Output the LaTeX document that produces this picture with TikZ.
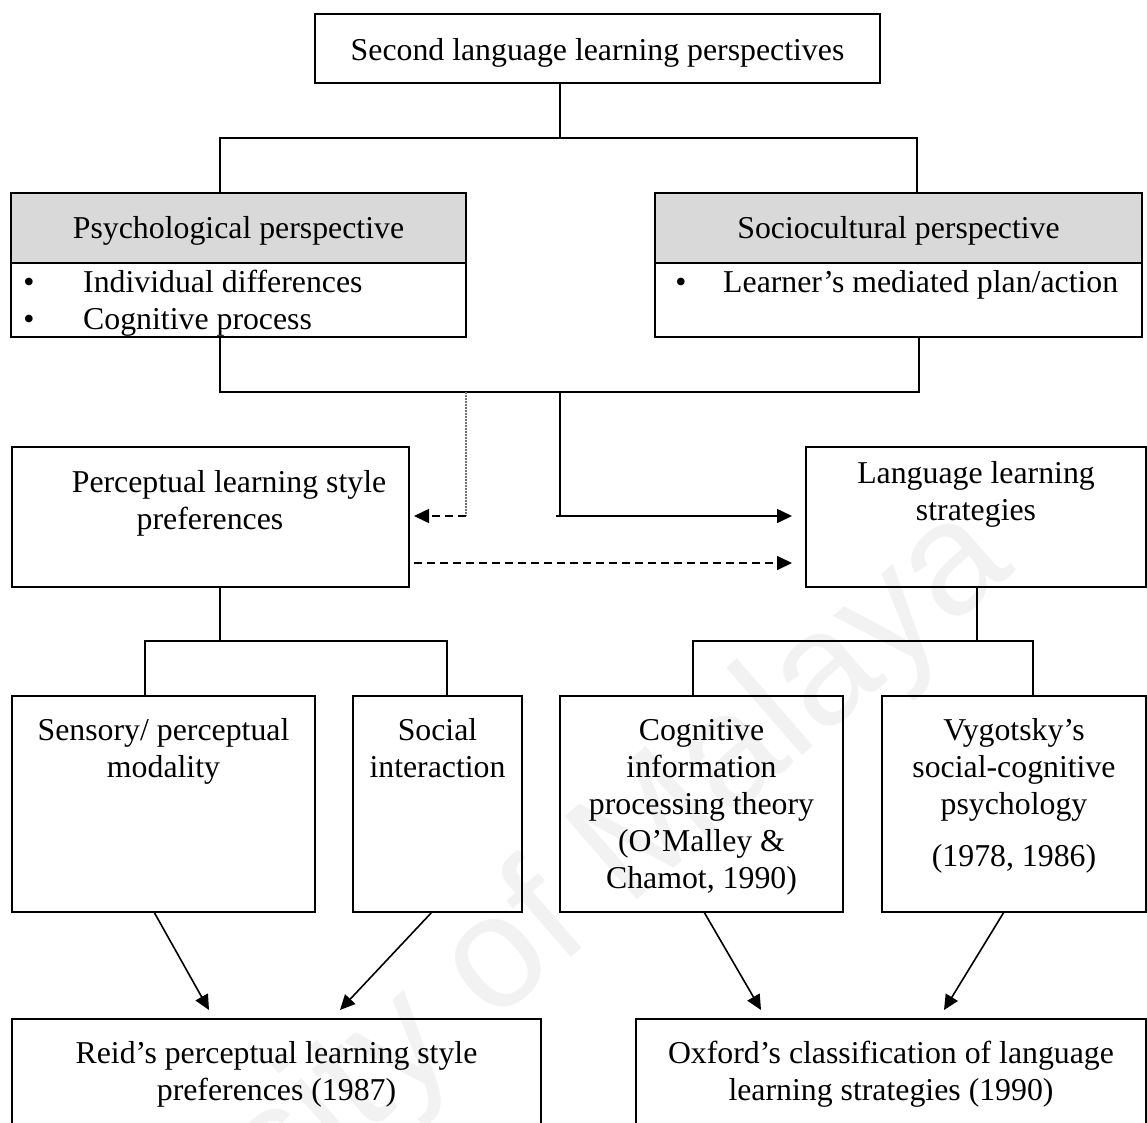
\documentclass[tikz,border=0pt]{standalone}
\usepackage{fontspec}
\setmainfont{Liberation Serif}
\newfontfamily\wmfont{Liberation Sans}
\usetikzlibrary{arrows.meta}
\definecolor{hdrgray}{RGB}{217,217,217}
\definecolor{wmgray}{RGB}{242,242,242}
\begin{document}
\begin{tikzpicture}[x=1pt, y=-1pt,
  box/.style={draw, line width=1.8pt, inner sep=0pt, outer sep=0pt, anchor=north west},
  hdr/.style={box, fill=hdrgray},
  txt/.style={anchor=base, inner sep=0pt, font=\fontsize{31.8pt}{37pt}\selectfont},
  link/.style={line width=1.8pt},
  arr/.style={line width=1.6pt, -{Triangle[length=15pt,width=14pt]}},
  dasharr/.style={arr, dash pattern=on 8pt off 5pt},
  guide/.style={black!55, line width=1.2pt, dash pattern=on 2pt off 1pt}]

\useasboundingbox (0,0) rectangle (1147,1122);
\fill[white] (0,0) rectangle (1147,1122);

% watermark
\node[rotate=41, anchor=base, inner sep=0pt, text=wmgray,
      font=\wmfont\fontsize{160pt}{160pt}\selectfont] (wm) at (473,1042) {University of Malaya};

% boxes
\node[box, minimum width=565pt, minimum height=69pt]  (top)  at (315,14)   {};
\node[hdr, minimum width=455pt, minimum height=70pt]  (psyh) at (11,193)   {};
\node[box, minimum width=455pt, minimum height=74pt]  (psyb) at (11,263)   {};
\node[hdr, minimum width=487pt, minimum height=70pt]  (soch) at (655,193)  {};
\node[box, minimum width=487pt, minimum height=74pt]  (socb) at (655,263)  {};
\node[box, minimum width=397pt, minimum height=140pt] (perc) at (12,447)   {};
\node[box, minimum width=340pt, minimum height=140pt] (lls)  at (806,447)  {};
\node[box, minimum width=303pt, minimum height=216pt] (sens) at (12,696)   {};
\node[box, minimum width=169pt, minimum height=216pt] (sint) at (353,696)  {};
\node[box, minimum width=283pt, minimum height=216pt] (cog)  at (560,696)  {};
\node[box, minimum width=264pt, minimum height=216pt] (vyg)  at (882,696)  {};
\node[box, minimum width=529pt, minimum height=130pt] (reid) at (12,1019)  {};
\node[box, minimum width=510pt, minimum height=130pt] (oxf)  at (636,1019) {};

% texts
\node[txt] (ttop) at (597.5,60) {Second language learning perspectives};
\node[txt] (tpsy) at (238.5,238) {Psychological perspective};
\node[txt] (tsoc) at (898.5,238) {Sociocultural perspective};
\node[txt] (bu1) at (29,292) {•};
\node[txt, anchor=base west] (it1) at (83,292) {Individual differences};
\node[txt] (bu2) at (29,329) {•};
\node[txt, anchor=base west] (it2) at (83,329) {Cognitive process};
\node[txt] (bu3) at (681,292) {•};
\node[txt, anchor=base west] (it3) at (723,292) {Learner’s mediated plan/action};

\node[txt] (pe1) at (229,492) {Perceptual learning style};
\node[txt] (pe2) at (210,529) {preferences};
\node[txt] (ll1) at (976,483) {Language learning};
\node[txt] (ll2) at (976,520) {strategies};

\node[txt] (se1) at (163.5,740) {Sensory/ perceptual};
\node[txt] (se2) at (163.5,777) {modality};
\node[txt] (si1) at (437.5,740) {Social};
\node[txt] (si2) at (437.5,777) {interaction};
\node[txt] (co1) at (701.5,740) {Cognitive};
\node[txt] (co2) at (701.5,777) {information};
\node[txt] (co3) at (701.5,814) {processing theory};
\node[txt] (co4) at (701.5,851) {(O’Malley \&};
\node[txt] (co5) at (701.5,888) {Chamot, 1990)};
\node[txt] (vy1) at (1014,740) {Vygotsky’s};
\node[txt] (vy2) at (1014,777) {social-cognitive};
\node[txt] (vy3) at (1014,814) {psychology};
\node[txt] (vy4) at (1014,866) {(1978, 1986)};

\node[txt] (re1) at (276.5,1063) {Reid’s perceptual learning style};
\node[txt] (re2) at (276.5,1100) {preferences (1987)};
\node[txt] (ox1) at (891,1063) {Oxford’s classification of language};
\node[txt] (ox2) at (891,1100) {learning strategies (1990)};

% junction points
\coordinate (ja) at (560,138);
\coordinate (jl) at (220,138);
\coordinate (jr) at (917,138);
\coordinate (ml) at (220,392);
\coordinate (mr) at (919,392);
\coordinate (sv) at (560,392);
\coordinate (sc) at (560,516);
\coordinate (sc0) at (556,516);
\coordinate (gv) at (466,392);
\coordinate (gc) at (466,516);
\coordinate (dl) at (0,563);
\coordinate (pc) at (220,641);
\coordinate (pl) at (145,641);
\coordinate (pr) at (447,641);
\coordinate (lc) at (977,641);
\coordinate (ll) at (693,641);
\coordinate (lr) at (1033,641);
\coordinate (s1) at (154,0);
\coordinate (s2) at (432,0);
\coordinate (s3) at (704,0);
\coordinate (s4) at (1004,0);
\coordinate (e1) at (209,1010);
\coordinate (e2) at (340,1010);
\coordinate (e3) at (761,1010);
\coordinate (e4) at (944,1010);

% tree connectors
\draw[link] (top.south -| ja) -- (ja);
\draw[link] (psyh.north -| jl) -- (jl) -- (jr) -- (soch.north -| jr);
\draw[link] (psyb.south -| ml) -- (ml) -- (mr) -- (socb.south -| mr);
\draw[link] (sv) -- (sc);
\draw[arr, shorten >=14pt] (sc0) -- (sc0 -| lls.west);
\draw[guide] (gv) -- (gc);
\draw[dasharr, shorten >=5pt] (gc) -- (gc -| perc.east);
\draw[dasharr, shorten <=5pt, shorten >=14pt] (perc.east |- dl) -- (lls.west |- dl);

\draw[link] (perc.south -| pc) -- (pc);
\draw[link] (sens.north -| pl) -- (pl) -- (pr) -- (sint.north -| pr);
\draw[link] (lls.south -| lc) -- (lc);
\draw[link] (cog.north -| ll) -- (ll) -- (lr) -- (vyg.north -| lr);

\draw[arr] (sens.south -| s1) -- (e1);
\draw[arr] (sint.south -| s2) -- (e2);
\draw[arr] (cog.south -| s3) -- (e3);
\draw[arr] (vyg.south -| s4) -- (e4);
\end{tikzpicture}
\end{document}
